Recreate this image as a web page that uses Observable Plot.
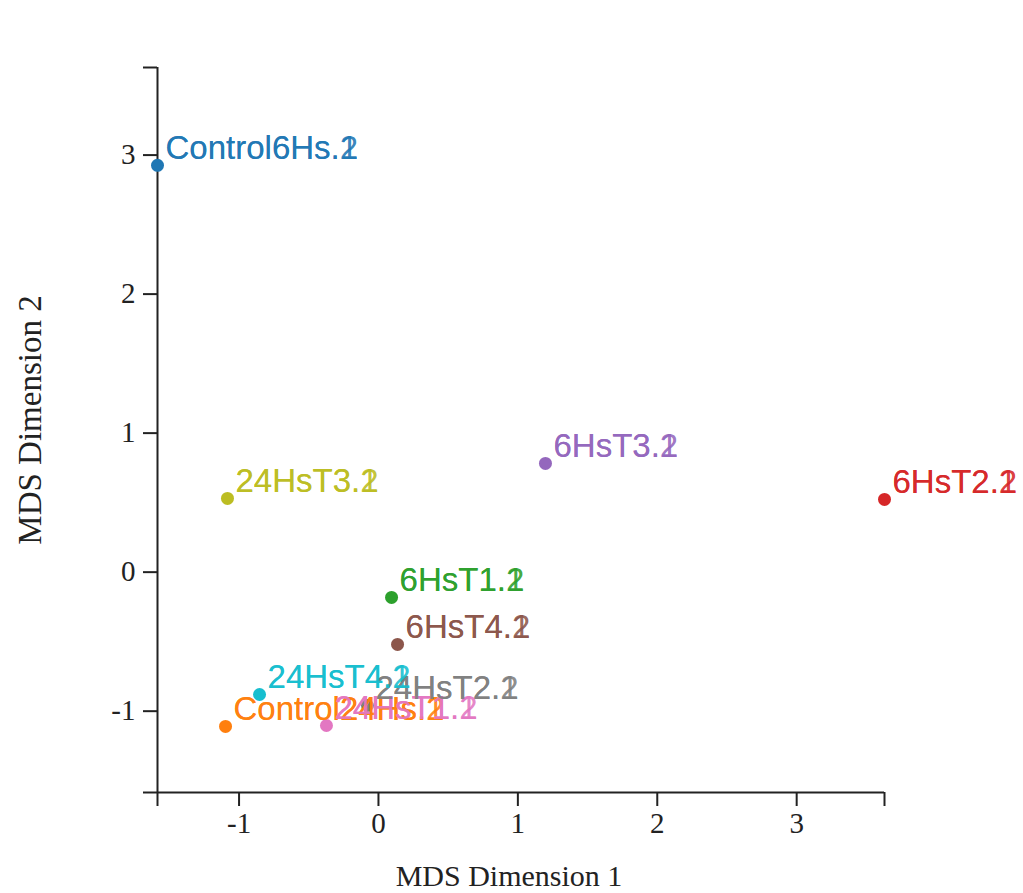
<!DOCTYPE html>
<html>
<head>
<meta charset="utf-8">
<script src="https://cdn.jsdelivr.net/npm/d3@7"></script>
<script src="https://cdn.jsdelivr.net/npm/@observablehq/plot@0.6"></script>
<style>
  html, body { margin: 0; padding: 0; background: #fff; }
  #chart { width: 1023px; height: 893px; overflow: hidden; }
</style>
</head>
<body>
<div id="chart"></div>
<script>
const samples = ["Control6Hs","Control24Hs","6HsT1","6HsT2","6HsT3","6HsT4","24HsT1","24HsT2","24HsT3","24HsT4"];
const dim1 = [-1.585, -1.097, 0.094, 3.63, 1.198, 0.137, -0.373, -0.079, -1.083, -0.853];
const dim2 = [2.926, -1.110, -0.182, 0.523, 0.782, -0.520, -1.103, -0.959, 0.530, -0.880];
const replicates = [".1", ".2"];
const ticks = [-1, 0, 1, 2, 3];
const xTitle = "MDS Dimension 1";
const yTitle = "MDS Dimension 2";

const data = samples.map((s, i) => ({name: s, x: dim1[i], y: dim2[i]}));
const all = dim1.concat(dim2);
const dom = [d3.min(all), d3.max(all)];
const labels = replicates.flatMap(r => data.map(d => ({...d, label: d.name + r})));

const serif = "'Liberation Serif', 'Times New Roman', serif";
const sans = "'Liberation Sans', Arial, sans-serif";

const chart = Plot.plot({
  width: 1023,
  height: 893,
  marginLeft: 157,
  marginRight: 139,
  marginTop: 67,
  marginBottom: 101,
  style: {fontFamily: serif, fontSize: "29px", color: "#222", background: "#fff", overflow: "visible"},
  x: {domain: dom, label: null},
  y: {domain: dom, label: null},
  color: {type: "ordinal", domain: samples, range: d3.schemeCategory10},
  marks: [
    Plot.ruleX([dom[0]], {stroke: "#222", strokeWidth: 2}),
    Plot.ruleY([dom[0]], {stroke: "#222", strokeWidth: 2}),
    Plot.axisX({ticks: ticks, tickSize: 14, tickPadding: 6, strokeWidth: 2, fontSize: 29, fontFamily: serif, tickFormat: d => String(d)}),
    Plot.axisX({ticks: dom, tickSize: 14, strokeWidth: 2, tickFormat: () => ""}),
    Plot.axisY({ticks: ticks, tickSize: 14, tickPadding: 8, strokeWidth: 2, fontSize: 29, fontFamily: serif, tickFormat: d => String(d)}),
    Plot.axisY({ticks: dom, tickSize: 14, strokeWidth: 2, tickFormat: () => ""}),
    Plot.dot(data, {x: "x", y: "y", r: 6.5, fill: "name", stroke: "none"}),
    Plot.text(labels, {x: "x", y: "y", text: "label", fill: "name", textAnchor: "start", lineAnchor: "bottom", dx: 8, dy: -6, fontSize: 33, fontFamily: sans, fillOpacity: 0.9}),
    Plot.text([xTitle], {frameAnchor: "bottom", textAnchor: "middle", dx: -12, dy: 84, lineAnchor: "middle", fontSize: 30, fontFamily: serif, fill: "#222"}),
    Plot.text([yTitle], {frameAnchor: "left", textAnchor: "middle", dx: -127, dy: -10, rotate: -90, lineAnchor: "middle", fontSize: 33, fontFamily: serif, fill: "#222"})
  ]
});
document.getElementById("chart").appendChild(chart);
</script>
</body>
</html>
